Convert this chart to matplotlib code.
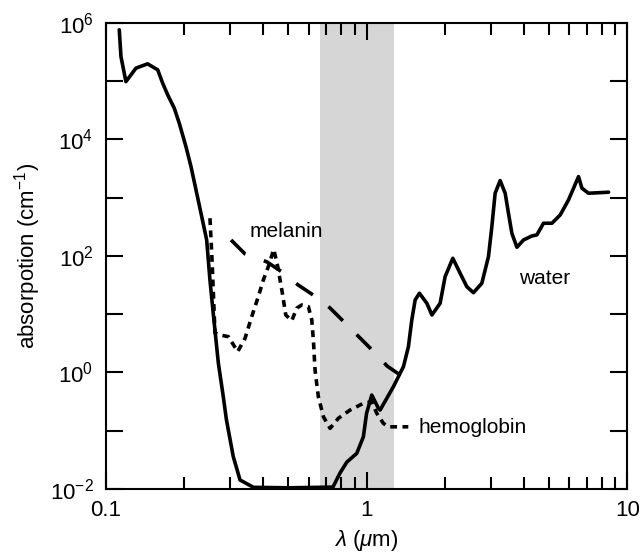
import math
import matplotlib
matplotlib.use("Agg")
import matplotlib.pyplot as plt
from matplotlib.ticker import FixedLocator, FuncFormatter, NullFormatter

plt.rcParams['font.family'] = ['Liberation Sans', 'DejaVu Sans']
plt.rcParams['mathtext.fontset'] = 'custom'
plt.rcParams['mathtext.rm'] = 'Liberation Sans'
plt.rcParams['mathtext.it'] = 'Liberation Sans:italic'
plt.rcParams['mathtext.default'] = 'regular'

# water absorption (solid line)
water_x = [0.1125, 0.1142, 0.1193, 0.1304, 0.1445, 0.158, 0.1651, 0.1726,
           0.1829, 0.1911, 0.2028, 0.212, 0.2216, 0.2316, 0.2435, 0.2506,
           0.258, 0.27, 0.282, 0.29, 0.308, 0.327, 0.368, 0.5,
           0.743, 0.79, 0.84, 0.917, 0.972, 1.0, 1.047, 1.11,
           1.127, 1.267, 1.385, 1.447, 1.491, 1.536, 1.595, 1.703,
           1.781, 1.915, 2.001, 2.142, 2.285, 2.424, 2.57, 2.768,
           2.935, 3.024, 3.113, 3.254, 3.402, 3.502, 3.609, 3.773,
           3.999, 4.307, 4.502, 4.772, 5.14, 5.533, 5.953, 6.504,
           6.701, 7.103, 8.478]
water_y = [7.59e5, 2.64e5, 9.8e4, 1.67e5, 1.98e5, 1.56e5, 9.2e4, 5.8e4,
           3.43e4, 1.9e4, 7.5e3, 3.41e3, 1.36e3, 541, 188, 39,
           10.4, 1.44, 0.385, 0.153, 0.036, 0.0143, 0.0107, 0.0105,
           0.0108, 0.0187, 0.029, 0.041, 0.079, 0.2, 0.41, 0.243,
           0.227, 0.57, 1.26, 2.77, 7.97, 17.6, 22.9, 15.4,
           9.7, 15.4, 44.1, 91.3, 50.5, 29.7, 23.4, 34,
           97.3, 318, 1191, 1963, 1191, 541, 245, 141,
           188, 220, 230, 364, 364, 506, 915, 2298,
           1454, 1191, 1241]

# melanin (long dashes)
melanin_x = [0.302, 0.342, 0.415, 0.474, 0.546, 0.640, 0.724, 0.827, 0.944,
             1.078, 1.199, 1.418]
melanin_y = [188, 108, 78.9, 53, 31.8, 19.8, 12.8, 7.08, 3.91, 2.16, 1.29, 0.77]

# hemoglobin (short dashes)
hemo_x = [0.2507, 0.2553, 0.262, 0.274, 0.2949, 0.3203, 0.3418, 0.3625,
          0.3842, 0.4017, 0.4198, 0.4404, 0.4563, 0.4753, 0.4897, 0.5164,
          0.5395, 0.564, 0.598, 0.6162, 0.625, 0.6344, 0.653, 0.683, 0.7244,
          0.7797, 0.8646, 0.972, 1.047, 1.094, 1.16, 1.213, 1.446]
hemo_y = [444, 85, 4.77, 4.4, 4.12, 2.28, 3.87, 9.08, 20, 38.7, 65.5, 130,
          65.5, 22.9, 9.7, 7.74, 12.7, 14.4, 13.5, 7.97, 3.6, 1.1, 0.385,
          0.174, 0.11, 0.164, 0.227, 0.296, 0.315, 0.2, 0.134, 0.117, 0.117]

band = (0.66, 1.27)

fig = plt.figure(figsize=(6.42, 5.57), dpi=100)
ax = fig.add_axes([0.165, 0.122, 0.812, 0.837])

ax.axvspan(band[0], band[1], color='#d6d6d6', lw=0, zorder=0)
ax.plot(water_x, water_y, color='black', lw=2.6, solid_joinstyle='round',
        solid_capstyle='round', zorder=3)
ax.plot(melanin_x, melanin_y, color='black', lw=2.6, dashes=(5.6, 5.4), zorder=3)
ax.plot(hemo_x, hemo_y, color='black', lw=2.6, dashes=(1.9, 1.5), zorder=3)

ax.set_xscale('log')
ax.set_yscale('log')
ax.set_xlim(0.1, 10)
ax.set_ylim(1e-2, 1e6)

ax.text(0.491, 261, 'melanin', fontsize=15, ha='center', va='center')
ax.text(4.83, 41, 'water', fontsize=15, ha='center', va='center')
ax.text(1.58, 0.116, 'hemoglobin', fontsize=15, ha='left', va='center')


def ylab(v, p):
    e = round(math.log10(v))
    return r'$10^{%d}$' % e if e % 2 == 0 else ''


yt = [10.0 ** e for e in range(-2, 7)]
ax.yaxis.set_major_locator(FixedLocator(yt))
ax.yaxis.set_minor_locator(FixedLocator([]))
ax.yaxis.set_major_formatter(FuncFormatter(ylab))

ax.xaxis.set_major_locator(FixedLocator([0.1, 1, 10]))
ax.xaxis.set_major_formatter(FuncFormatter(lambda v, p: '%g' % v))
minor_x = [m * d for d in (0.1, 1) for m in range(2, 10)]
ax.xaxis.set_minor_locator(FixedLocator(minor_x))
ax.xaxis.set_minor_formatter(NullFormatter())

ax.tick_params(axis='both', which='both', direction='in', top=True, right=True,
               width=1.5, labelsize=16)
ax.tick_params(axis='y', which='major', length=12, pad=9)
ax.tick_params(axis='x', which='major', length=12, pad=8)
ax.tick_params(axis='x', which='minor', length=8.5)
for s in ax.spines.values():
    s.set_linewidth(1.5)

ax.set_xlabel(r'$\mathit{\lambda}$ ($\mathit{\mu}$m)', fontsize=16, labelpad=5)
ax.set_ylabel(r'absorpotion (cm$^{-1}$)', fontsize=16, labelpad=5)

fig.savefig('out.png', dpi=100)
